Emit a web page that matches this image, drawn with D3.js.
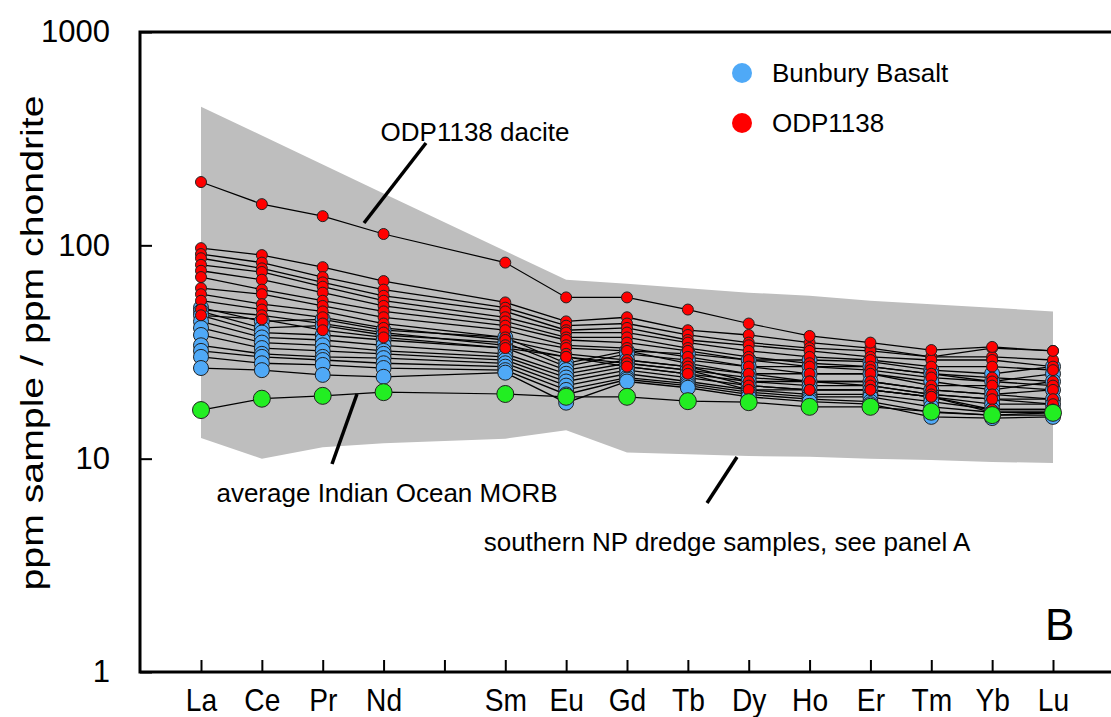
<!DOCTYPE html>
<html>
<head>
<meta charset="utf-8">
<script src="https://cdn.jsdelivr.net/npm/d3@7"></script>
<style>
  body { margin: 0; background: #fff; }
  svg { display: block; font-family: "Liberation Sans", Arial, sans-serif; }
</style>
</head>
<body>
<div class="visualization"></div>
<script>
// REE axis (Pm has a tick but no data)
const axisElements = ["La","Ce","Pr","Nd","Pm","Sm","Eu","Gd","Tb","Dy","Ho","Er","Tm","Yb","Lu"];
const elements = ["La","Ce","Pr","Nd","Sm","Eu","Gd","Tb","Dy","Ho","Er","Tm","Yb","Lu"];
const yTicks = [1, 10, 100, 1000];

// southern NP dredge samples envelope (grey field)
const bandTop    = [446, 327, 239, 175, 94, 69, 66, 63, 60, 58, 55, 53, 51, 49];
const bandBottom = [12.5, 10, 11.3, 11.8, 12.4, 13.6, 10.7, 10.5, 10.3, 10.2, 10.0, 9.85, 9.65, 9.55];

// average Indian Ocean MORB
const morb = [16.9, 19.1, 19.7, 20.5, 20.1, 19.5, 19.5, 18.6, 18.4, 17.5, 17.5, 16.6, 16.0, 16.4];

// ODP1138 dacite
const dacite = [198, 156, 137, 113, 83, 57, 57, 50, 43, 37.6, 35, 32.3, 33.4, 32];

// ODP1138 samples
const odp1138 = [
  [97, 90, 79, 68, 54, 44, 46, 40, 38, 35, 33, 30, 33, 32],
  [91, 83, 71, 62, 51, 42, 43, 38, 35, 33, 32, 30, 30, 29],
  [87, 78, 67, 58, 49, 40, 41, 36, 34, 32, 30, 29, 29, 27],
  [81, 75, 64, 55, 46, 39, 39, 35, 32, 30, 29, 27, 27, 26],
  [76, 69, 60, 52, 44, 37, 37, 33, 30, 28, 27, 25, 24, 23],
  [71, 62, 55, 49, 42, 36, 35, 32, 29, 27, 26, 24, 23, 22],
  [63, 59, 52, 46, 40, 34, 33, 30, 27, 25, 25, 22, 22, 21],
  [59, 53, 49, 43, 37, 33, 32, 28, 25, 23, 23, 21, 20, 19],
  [55, 50, 46, 41, 36, 31, 29, 27, 23, 23, 22, 20, 19, 18],
  [50, 47, 43, 39, 34, 30, 28, 26, 22, 21, 21, 19.5, 17, 17],
  [47, 45, 40, 37, 33, 30, 27, 25, 21, 21, 21, 19.5, 16.5, 16.5]
];

// Bunbury Basalt samples
const bunbury = [
  [51, 44, 45, 40, 37, 28, 32, 31, 29, 29, 28.5, 26, 25, 27],
  [49, 41, 42, 38, 35, 27, 31, 29, 27, 27, 27, 25, 23, 25],
  [47, 39, 38, 36, 33, 26, 29, 27, 25, 25, 25, 23, 21, 23],
  [44, 37, 36, 34, 31, 25, 28, 26, 24, 23, 23, 21, 20, 21],
  [41, 35, 34, 32, 30, 24, 27, 25, 23, 22, 22, 20, 19, 19],
  [38, 33, 32, 31, 29, 23, 26, 24, 22, 21, 21, 19.5, 18, 18],
  [34, 31, 30, 29.6, 28, 22, 25, 23, 21, 20, 20, 18.5, 17, 17],
  [32, 30, 29, 28, 27, 21, 24, 22.5, 20.5, 19.5, 19.5, 17.5, 16.5, 16.5],
  [30, 28, 27.5, 26.6, 26, 20, 23.5, 22, 20, 19, 18.5, 16.5, 16, 16],
  [26.6, 26, 24.7, 24.2, 25.3, 18.3, 23, 21.5, 19.5, 18.5, 18, 15.7, 15.5, 15.7]
];

const legendItems = [
  { label: "Bunbury Basalt", color: "#4fa9f7" },
  { label: "ODP1138", color: "#ff0000" }
];

const width = 1111, height = 717;
const svg = d3.select(".visualization").append("svg")
  .attr("width", width).attr("height", height);

const x = d3.scalePoint().domain(axisElements).range([201, 1053]);
const y = d3.scaleLog().domain([1, 1000]).range([672, 32]);

// grey envelope
const bandPts = elements.map((e, i) => [x(e), y(bandTop[i])])
  .concat(elements.map((e, i) => [x(e), y(bandBottom[i])]).reverse());
svg.append("polygon")
  .attr("points", bandPts.map(p => p.join(",")).join(" "))
  .attr("fill", "#bebebe");

const line = d3.line().x((d, i) => x(elements[i])).y(d => y(d));

// sample lines
const allSamples = bunbury.concat(odp1138);
svg.append("g").selectAll("path").data(allSamples).join("path")
  .attr("d", line).attr("fill", "none").attr("stroke", "#000").attr("stroke-width", 1.3);

svg.append("path").attr("d", line(dacite))
  .attr("fill", "none").attr("stroke", "#000").attr("stroke-width", 1.2);
svg.append("path").attr("d", line(morb))
  .attr("fill", "none").attr("stroke", "#000").attr("stroke-width", 1.2);

function dots(rows, r, color) {
  const g = svg.append("g");
  rows.forEach(row => {
    g.selectAll(null).data(row).join("circle")
      .attr("cx", (d, i) => x(elements[i]))
      .attr("cy", d => y(d))
      .attr("r", r)
      .attr("fill", color)
      .attr("stroke", "#222")
      .attr("stroke-width", 1);
  });
}
dots(bunbury, 7.5, legendItems[0].color);
dots(odp1138, 5.5, legendItems[1].color);
dots([dacite], 5.5, legendItems[1].color);
dots([morb], 8.5, "#22ee22");

// axes
const xAxis = d3.axisBottom(x).tickSize(-12).tickPadding(0)
  .tickFormat(d => d === "Pm" ? "" : d);
const gx = svg.append("g").attr("transform", "translate(0,672)").call(xAxis);
gx.select(".domain").remove();
gx.selectAll(".tick line").attr("stroke", "#000").attr("stroke-width", 2);
gx.selectAll(".tick text")
  .attr("font-size", 32).attr("fill", "#000")
  .attr("font-family", "Liberation Sans, Arial, sans-serif")
  .attr("y", 39).attr("dy", null)
  .attr("transform", "scale(0.88,1)");

const yAxis = d3.axisLeft(y).tickValues(yTicks).tickSize(-12).tickPadding(30)
  .tickFormat(d3.format("d"));
const gy = svg.append("g").attr("transform", "translate(140,0)").call(yAxis);
gy.select(".domain").remove();
gy.selectAll(".tick line").attr("stroke", "#000").attr("stroke-width", 2);
gy.selectAll(".tick text").attr("font-size", 31).attr("fill", "#000")
  .attr("font-family", "Liberation Sans, Arial, sans-serif");

// frame
svg.append("path")
  .attr("d", "M1111,32 H140 V672 H1111")
  .attr("fill", "none").attr("stroke", "#000").attr("stroke-width", 3);

// y label
svg.append("text")
  .attr("transform", "translate(43,343) rotate(-90)")
  .attr("text-anchor", "middle")
  .attr("font-size", 31)
  .attr("textLength", 495)
  .attr("lengthAdjust", "spacingAndGlyphs")
  .text("ppm sample / ppm chondrite");

// annotations
const ann = svg.append("g").attr("font-size", 26).attr("fill", "#000");
ann.append("text").attr("x", 475).attr("y", 141).attr("text-anchor", "middle").text("ODP1138 dacite");
ann.append("text").attr("x", 387).attr("y", 502).attr("text-anchor", "middle").text("average Indian Ocean MORB");
ann.append("text").attr("x", 727).attr("y", 551).attr("text-anchor", "middle").text("southern NP dredge samples, see panel A");
ann.append("text").attr("x", 1045).attr("y", 640).attr("font-size", 44).text("B");

const leaders = [
  [426, 143, 364, 223],
  [357, 394, 332, 464],
  [737, 457, 707, 503]
];
svg.append("g").selectAll("line").data(leaders).join("line")
  .attr("x1", d => d[0]).attr("y1", d => d[1])
  .attr("x2", d => d[2]).attr("y2", d => d[3])
  .attr("stroke", "#000").attr("stroke-width", 3.5);

// legend
const lg = svg.append("g").selectAll("g").data(legendItems).join("g")
  .attr("transform", (d, i) => `translate(742,${73 + i * 50})`);
lg.append("circle").attr("r", 10).attr("fill", d => d.color);
lg.append("text").attr("x", 30).attr("dy", "0.35em").attr("font-size", 26).text(d => d.label);
</script>
</body>
</html>
